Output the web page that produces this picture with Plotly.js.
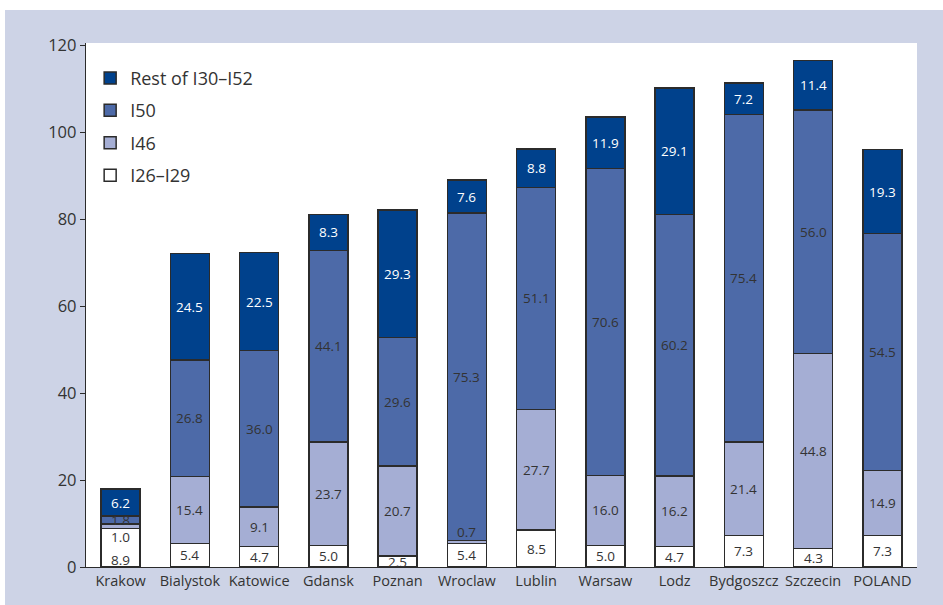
<!DOCTYPE html>
<html><head><meta charset="utf-8">
<script src="https://cdn.plot.ly/plotly-3.0.1.min.js"></script>
<style>
html,body{margin:0;padding:0;background:#fff;width:943px;height:605px;overflow:hidden}
#chart{position:absolute;left:5px;top:10px;width:938px;height:595px}
</style></head><body>
<div id="chart"></div>
<script>
const cities = ["Krakow","Bialystok","Katowice","Gdansk","Poznan","Wroclaw","Lublin","Warsaw","Lodz","Bydgoszcz","Szczecin","POLAND"];
const i26_29 = [8.9,5.4,4.7,5.0,2.5,5.4,8.5,5.0,4.7,7.3,4.3,7.3];
const i46    = [1.0,15.4,9.1,23.7,20.7,0.7,27.7,16.0,16.2,21.4,44.8,14.9];
const i50    = [1.8,26.8,36.0,44.1,29.6,75.3,51.1,70.6,60.2,75.4,56.0,54.5];
const rest   = [6.2,24.5,22.5,8.3,29.3,7.6,8.8,11.9,29.1,7.2,11.4,19.3];
const seriesNames = ["I26–I29","I46","I50","Rest of I30–I52"];

const series = [i26_29, i46, i50, rest];
const colors = ["#ffffff","#a5aed4","#4d6aa8","#00418c"];
const textColors = ["#333333","#333333","#333333","#ffffff"];

// label nudges (pixels) where the reference moves a label off the segment centre
const nudge = {"0,0": -12, "0,1": -11, "5,1": 10};

const traces = series.map((vals, s) => ({
  type: "bar", x: cities, y: vals, name: seriesNames[s],
  legendgroup: "g" + s,
  legendrank: 1000 - s,
  width: 0.56,
  marker: {color: colors[s], line: {color: "#2b2b2b", width: 1.5}},
  hoverinfo: "skip"
}));

const annotations = [];
cities.forEach((c, i) => {
  let base = 0;
  series.forEach((vals, s) => {
    const v = vals[i];
    annotations.push({
      x: c, y: base + v / 2, xref: "x", yref: "y",
      text: v.toFixed(1), showarrow: false,
      yshift: nudge[i + "," + s] || 0,
      font: {family: "Open Sans, Noto Sans, sans-serif", size: 13.5, color: textColors[s]}
    });
    base += v;
  });
});

const layout = {
  width: 938, height: 595,
  margin: {l: 81, r: 26, t: 33, b: 38},
  paper_bgcolor: "#cdd3e6",
  plot_bgcolor: "#ffffff",
  barmode: "stack",
  bargap: 0.44,
  font: {family: "Open Sans, Noto Sans, sans-serif", color: "#333333"},
  xaxis: {
    showline: true, linecolor: "#2b2b2b", linewidth: 1.2,
    ticks: "", tickfont: {size: 14.5, color: "#333333"},
    showgrid: false, zeroline: false, fixedrange: true
  },
  yaxis: {
    range: [0, 120.5], tickvals: [0,20,40,60,80,100,120],
    showline: true, linecolor: "#2b2b2b", linewidth: 1.2,
    ticks: "outside", ticklen: 5, tickcolor: "#2b2b2b",
    tickfont: {size: 16.5, color: "#333333"},
    showgrid: false, zeroline: false
  },
  legend: {
    x: 0.005, y: 0.968, xanchor: "left", yanchor: "top",
    traceorder: "grouped", tracegroupgap: 6,
    bgcolor: "rgba(0,0,0,0)",
    font: {size: 18, color: "#333333"}
  },
  annotations: annotations
};

Plotly.newPlot("chart", traces, layout, {displayModeBar: false, staticPlot: true});
</script>
</body></html>
